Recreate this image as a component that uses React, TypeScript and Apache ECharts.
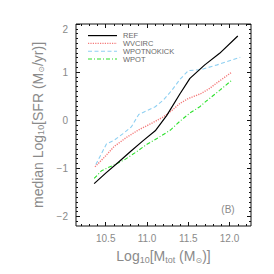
import React, { useEffect, useRef } from "react";
import * as echarts from "echarts";

// ---- data ----
const refX = [10.36, 10.5, 10.65, 10.8, 10.95, 11.1, 11.24, 11.4, 11.52, 11.7, 11.88, 12.1];
const refY = [-1.32, -1.1, -0.88, -0.65, -0.43, -0.22, 0.1, 0.55, 0.87, 1.15, 1.39, 1.75];

const wvcircX = [10.37, 10.5, 10.6, 10.75, 10.9, 11.05, 11.2, 11.3, 11.4, 11.5, 11.65, 11.75, 11.85, 12.02];
const wvcircY = [-0.97, -0.74, -0.55, -0.36, -0.2, -0.07, 0.07, 0.2, 0.35, 0.45, 0.55, 0.65, 0.78, 0.99];

const nokickX = [10.38, 10.45, 10.51, 10.6, 10.71, 10.81, 10.9, 11.0, 11.1, 11.2, 11.3, 11.4, 11.5, 11.65, 11.85, 12.13];
const nokickY = [-0.92, -0.69, -0.49, -0.42, -0.28, -0.14, 0.12, 0.2, 0.28, 0.42, 0.62, 0.85, 1.03, 1.05, 1.15, 1.31];

const wpotX = [10.36, 10.45, 10.6, 10.73, 10.87, 11.0, 11.15, 11.28, 11.4, 11.52, 11.64, 11.72, 11.88, 12.02];
const wpotY = [-1.21, -1.05, -0.93, -0.82, -0.66, -0.5, -0.35, -0.21, -0.02, 0.15, 0.28, 0.4, 0.62, 0.82];

const seriesNames = ["REF", "WVCIRC", "WPOTNOKICK", "WPOT"];
const seriesColors = ["#000000", "#f47a7a", "#8fd0f2", "#2ee02e"];

const xMajor = [10.5, 11.0, 11.5, 12.0];
const xMinor = [10.2, 10.3, 10.4, 10.6, 10.7, 10.8, 10.9, 11.1, 11.2, 11.3, 11.4, 11.6, 11.7, 11.8, 11.9, 12.1, 12.2];
const yMajor = [-2, -1, 0, 1, 2];
const yMinor = [-2.1, -1.9, -1.8, -1.7, -1.6, -1.5, -1.4, -1.3, -1.2, -1.1, -0.9, -0.8, -0.7, -0.6, -0.5, -0.4, -0.3, -0.2, -0.1,
  0.1, 0.2, 0.3, 0.4, 0.5, 0.6, 0.7, 0.8, 0.9, 1.1, 1.2, 1.3, 1.4, 1.5, 1.6, 1.7, 1.8, 1.9];

const X_MIN = 10.14, X_MAX = 12.26;
const Y_MIN = -2.2, Y_MAX = 2.0;

const FONT = "Liberation Sans";
const LABEL_COLOR = "#8a8a8a";

function pairs(xs: number[], ys: number[]) {
  return xs.map((x, i) => [x, ys[i]]);
}

export default function App() {
  const ref = useRef<HTMLDivElement>(null);
  useEffect(() => {
    if (!ref.current) return;
    const chart = echarts.init(ref.current, undefined, { renderer: "svg" });

    const tickAxis = (
      kind: "x" | "y",
      position: string,
      ticks: number[],
      len: number,
      labels: number[] | null,
      extra: any = {}
    ) => ({
      type: "value",
      position,
      min: kind === "x" ? X_MIN : Y_MIN,
      max: kind === "x" ? X_MAX : Y_MAX,
      axisLine: { show: false, onZero: false },
      splitLine: { show: false },
      axisTick: {
        show: true,
        inside: true,
        length: len,
        customValues: ticks,
        lineStyle: { color: "#111", width: 1 },
      },
      axisLabel: labels
        ? {
            show: true,
            customValues: labels,
            color: LABEL_COLOR,
            fontFamily: FONT,
            fontSize: 10,
            margin: kind === "x" ? 7 : 8,
            verticalAlignMaxLabel: kind === "y" ? "top" : undefined,
            formatter: (v: number) =>
              kind === "x" ? v.toFixed(1) : v < 0 ? "\u2212" + Math.abs(v) : String(v),
          }
        : { show: false },
      ...extra,
    });

    const nameRich = {
      n: { fontSize: 14, color: LABEL_COLOR, fontFamily: FONT, lineHeight: 18 },
      s: { fontSize: 9, color: LABEL_COLOR, fontFamily: FONT, padding: [7, 0, 0, 0], lineHeight: 18 },
      o: { fontSize: 8, color: LABEL_COLOR, fontFamily: "DejaVu Sans", padding: [8, 0, 0, 0], lineHeight: 18 },
    };

    const lineTypes: any[] = ["solid", [1.2, 1.2], [4, 2.5], [4, 2, 1, 2]];
    const widths = [1.2, 1.4, 1.1, 1.1];
    const xs = [refX, wvcircX, nokickX, wpotX];
    const ys = [refY, wvcircY, nokickY, wpotY];

    const legendY = [35.6, 43.4, 51.2, 59.0];
    const graphics: any[] = [];
    seriesNames.forEach((nm, i) => {
      graphics.push({
        type: "line",
        shape: { x1: 88, y1: legendY[i], x2: 117, y2: legendY[i] },
        style: { stroke: seriesColors[i], lineWidth: widths[i], lineDash: lineTypes[i] === "solid" ? null : lineTypes[i] },
      });
      graphics.push({
        type: "text",
        x: 123,
        y: legendY[i],
        style: { text: nm, fill: "#6a6a6a", font: `7.5px "${FONT}"`, verticalAlign: "middle", align: "left" },
      });
    });
    graphics.push({
      type: "text",
      x: 228,
      y: 209.5,
      style: { text: "(B)", fill: LABEL_COLOR, font: `10px "${FONT}"`, verticalAlign: "middle", align: "center" },
    });

    chart.setOption({
      animation: false,
      backgroundColor: "#ffffff",
      grid: { left: 76, top: 24, width: 175, height: 202, show: true, borderColor: "#111", borderWidth: 1, backgroundColor: "transparent" },
      xAxis: [
        tickAxis("x", "bottom", xMajor, 4, xMajor, {
          name: "{n|Log}{s|10}{n|[M}{s|tot}{n| (M}{o|\u2299}{n|)]}",
          nameLocation: "middle",
          nameGap: 21,
          nameTextStyle: { rich: nameRich, color: LABEL_COLOR },
        }),
        tickAxis("x", "bottom", xMinor, 2, null),
        tickAxis("x", "top", xMajor, 4, null),
        tickAxis("x", "top", xMinor, 2, null),
      ],
      yAxis: [
        tickAxis("y", "left", yMajor, 4, yMajor, {
          name: "{n|median Log}{s|10}{n|[SFR (M}{o|\u2299}{n|/yr)]}",
          nameLocation: "middle",
          nameGap: 28,
          nameRotate: 90,
          nameTextStyle: { rich: nameRich, color: LABEL_COLOR },
        }),
        tickAxis("y", "left", yMinor, 2, null),
        tickAxis("y", "right", yMajor, 4, null),
        tickAxis("y", "right", yMinor, 2, null),
      ],
      series: seriesNames.map((nm, i) => ({
        name: nm,
        type: "line",
        xAxisIndex: 0,
        yAxisIndex: 0,
        data: pairs(xs[i], ys[i]),
        showSymbol: false,
        symbol: "none",
        lineStyle: { color: seriesColors[i], width: widths[i], type: lineTypes[i] },
        z: 10 - i,
      })),
      graphic: graphics,
    });
    return () => chart.dispose();
  }, []);
  return <div ref={ref} style={{ width: 274, height: 274, position: "absolute", left: 0, top: 0 }} />;
}
